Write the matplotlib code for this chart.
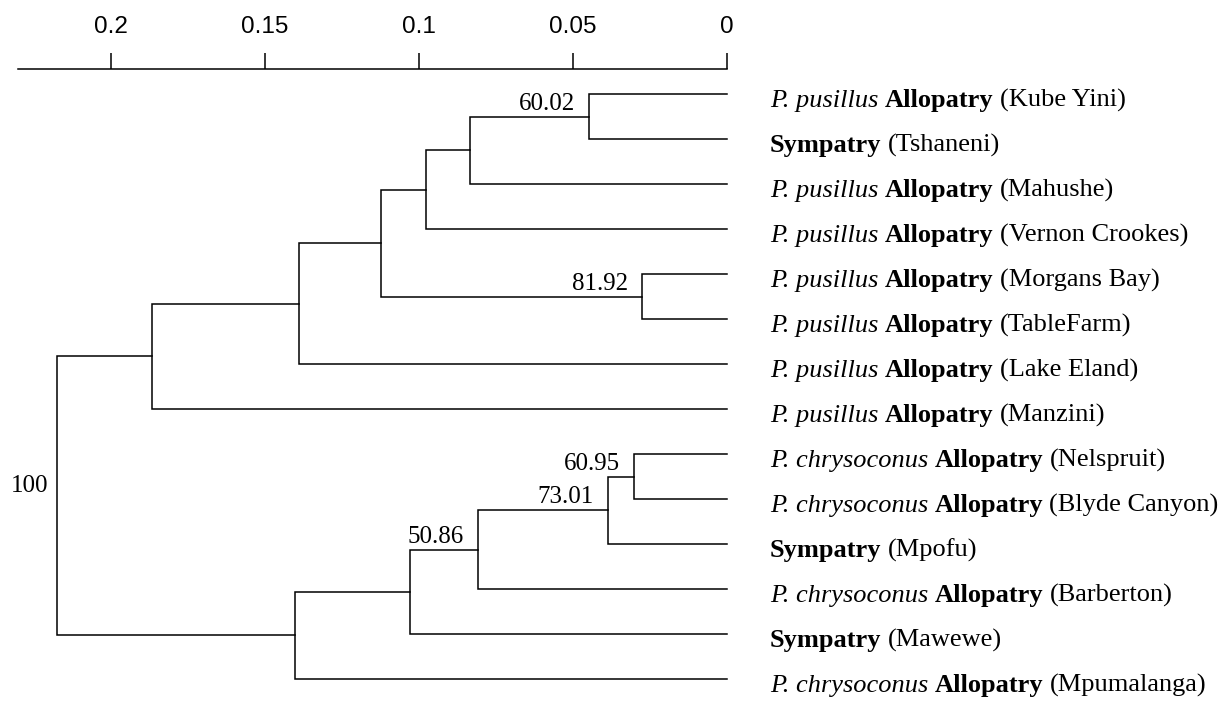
import matplotlib
matplotlib.use("Agg")
import matplotlib.pyplot as plt

# leaves, top to bottom
leaf_species = ["P. pusillus", "", "P. pusillus", "P. pusillus", "P. pusillus",
                "P. pusillus", "P. pusillus", "P. pusillus", "P. chrysoconus",
                "P. chrysoconus", "", "P. chrysoconus", "", "P. chrysoconus"]
leaf_status = ["Allopatry", "Sympatry", "Allopatry", "Allopatry", "Allopatry",
               "Allopatry", "Allopatry", "Allopatry", "Allopatry", "Allopatry",
               "Sympatry", "Allopatry", "Sympatry", "Allopatry"]
leaf_sites = ["Kube Yini", "Tshaneni", "Mahushe", "Vernon Crookes", "Morgans Bay",
              "TableFarm", "Lake Eland", "Manzini", "Nelspruit", "Blyde Canyon",
              "Mpofu", "Barberton", "Mawewe", "Mpumalanga"]

# merges (scipy style: index < 14 is a leaf, else an earlier merge)
merge_a = [0, 14, 15, 4, 16, 18, 19, 8, 21, 22, 23, 24, 20]
merge_b = [1, 2, 3, 5, 17, 6, 7, 9, 10, 11, 12, 13, 25]
merge_height = [0.0449, 0.0833, 0.0976, 0.0275, 0.1123, 0.1389, 0.1868,
                0.0302, 0.0387, 0.0809, 0.1029, 0.1403, 0.2174]
merge_support = ["60.02", "", "", "81.92", "", "", "", "60.95", "73.01",
                 "50.86", "", "", "100"]

ticks = [0.2, 0.15, 0.1, 0.05, 0]
tick_labels = ["0.2", "0.15", "0.1", "0.05", "0"]

serif = "Liberation Serif"
fs = 19

fig = plt.figure(figsize=(12.26, 7.04), dpi=100)
ax = fig.add_axes([18 / 1226, 0.0, 709 / 1226, 1 - 69 / 704])

n = len(leaf_sites)
ypos = list(range(n))
xpos = [0.0] * n
for a, b, h, s in zip(merge_a, merge_b, merge_height, merge_support):
    ax.plot([xpos[a], h, h, xpos[b]], [ypos[a], ypos[a], ypos[b], ypos[b]],
            color="black", lw=1.1, clip_on=False, solid_joinstyle="miter")
    ypos.append((ypos[a] + ypos[b]) / 2)
    xpos.append(h)
    if s:
        off = (-6.5, 3) if s == "100" else (-10, 5)
        ax.annotate(s, xy=(h, ypos[-1]), xytext=off, textcoords="offset points",
                    ha="right", va="baseline", family=serif, fontsize=18,
                    annotation_clip=False)

# leaf labels, mixed italic / bold / regular
for i in range(n):
    parts = []
    if leaf_species[i]:
        parts.append((leaf_species[i], "italic", "normal"))
    parts.append((leaf_status[i], "normal", "bold"))
    parts.append(("(" + leaf_sites[i] + ")", "normal", "normal"))
    prev = None
    for txt, style, weight in parts:
        if prev is None:
            t = ax.annotate(txt, xy=(0, i), xycoords="data", xytext=(31, -9.2),
                            textcoords="offset points", ha="left", va="baseline",
                            family=serif, fontsize=fs, fontstyle=style,
                            fontweight=weight, annotation_clip=False)
        else:
            t = ax.annotate(txt, xy=(1, i), xycoords=(prev, "data"), xytext=(4.5, -9.2),
                            textcoords="offset points", ha="left", va="baseline",
                            family=serif, fontsize=fs, fontstyle=style,
                            fontweight=weight, annotation_clip=False)
        prev = t

ax.set_xlim(0.2302, 0)
ax.set_ylim((704 - 94) / 45, (69 - 94) / 45)

for side in ["left", "right", "bottom"]:
    ax.spines[side].set_visible(False)
ax.spines["top"].set_linewidth(1.1)
ax.xaxis.tick_top()
ax.set_xticks(ticks)
ax.set_xticklabels(tick_labels, family="Liberation Sans", fontsize=17.5)
ax.tick_params(axis="x", direction="out", length=11.5, width=1.1, pad=11)
ax.set_yticks([])

fig.savefig("out.png", dpi=100)
